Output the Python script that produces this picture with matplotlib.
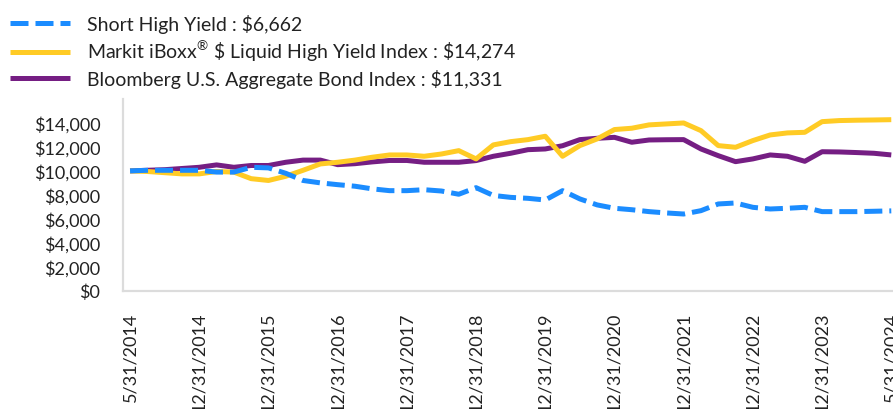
import matplotlib
matplotlib.use("Agg")
import matplotlib.pyplot as plt
from matplotlib.lines import Line2D
import numpy as np

plt.rcParams['font.family'] = ['Lato', 'DejaVu Sans']
plt.rcParams['mathtext.fontset'] = 'custom'
plt.rcParams['mathtext.rm'] = 'Lato'

# Growth of $10,000 (quarterly points, 5/31/2014 - 5/31/2024)
short_high_yield = [10000, 10050, 10050, 10050, 10050, 9900, 9900, 10300, 10250, 9800,
                    9200, 9000, 8850, 8720, 8500, 8350, 8350, 8430, 8320, 8050,
                    8600, 7950, 7790, 7710, 7570, 8350, 7660, 7160, 6880, 6760,
                    6600, 6490, 6400, 6680, 7240, 7320, 6960, 6820, 6880, 6960,
                    6600, 6600, 6600, 6630, 6662]
markit_hy = [10000, 9950, 9850, 9750, 9750, 9950, 9900, 9350, 9200, 9550,
             10050, 10580, 10720, 10900, 11140, 11330, 11330, 11220, 11410, 11690,
             11000, 12170, 12440, 12610, 12890, 11220, 12110, 12670, 13450, 13560,
             13840, 13920, 14000, 13360, 12110, 11970, 12530, 13000, 13170, 13220,
             14110, 14200, 14230, 14250, 14274]
bloomberg_agg = [10000, 10050, 10100, 10200, 10300, 10500, 10300, 10450, 10450, 10720,
                 10900, 10900, 10520, 10600, 10750, 10870, 10870, 10720, 10720, 10720,
                 10860, 11220, 11470, 11770, 11830, 12100, 12610, 12720, 12800, 12390,
                 12580, 12600, 12610, 11830, 11270, 10770, 11000, 11330, 11220, 10800,
                 11600, 11580, 11530, 11470, 11331]
tick_labels = ["5/31/2014", "12/31/2014", "12/31/2015", "12/31/2016", "12/31/2017",
               "12/31/2018", "12/31/2019", "12/31/2020", "12/31/2021", "12/31/2022",
               "12/31/2023", "5/31/2024"]
series_labels = ["Short High Yield : \\$6,662",
                 "Markit iBoxx$^{\u00ae}$ \\$ Liquid High Yield Index : \\$14,274",
                 "Bloomberg U.S. Aggregate Bond Index : \\$11,331"]

C_BLUE = "#1B8CFF"
C_YEL = "#FFCB25"
C_PUR = "#751E83"

W, H = 893, 410
fig = plt.figure(figsize=(W / 100, H / 100), dpi=100)
ax = fig.add_axes([123.3 / W, (H - 291.7) / H, (W - 123.3) / W, (291.7 - 100) / H])

x = np.arange(len(short_high_yield))
lw = 3.6
ax.plot(x, bloomberg_agg, color=C_PUR, lw=lw, solid_capstyle='butt', zorder=2)
ax.plot(x, markit_hy, color=C_YEL, lw=lw, solid_capstyle='butt', zorder=3)
ax.plot(x, short_high_yield, color=C_BLUE, lw=lw, dashes=(3.6, 1.4),
        dash_capstyle='butt', zorder=4)

ax.set_xlim(-0.39, 44.1)
ax.set_ylim(0, 16000)
ax.set_yticks(np.arange(0, 14001, 2000))
ax.yaxis.set_major_formatter(matplotlib.ticker.FuncFormatter(lambda v, p: f"${v:,.0f}"))
ax.set_xticks(np.arange(0, len(x), 4))
ax.set_xticklabels(tick_labels, rotation=90, va='top', ha='center')

for s in ['top', 'right']:
    ax.spines[s].set_visible(False)
for s in ['left', 'bottom']:
    ax.spines[s].set_color('#dcdcdc')
    ax.spines[s].set_linewidth(1.6)
ax.tick_params(axis='y', length=0, pad=16.5, labelsize=13, labelcolor='#222222')
ax.tick_params(axis='x', length=0, pad=15, labelsize=13, labelcolor='#222222')

handles = [Line2D([], [], color=C_BLUE, lw=lw, dashes=(3.6, 1.4), dash_capstyle='butt'),
           Line2D([], [], color=C_YEL, lw=lw, solid_capstyle='butt'),
           Line2D([], [], color=C_PUR, lw=lw, solid_capstyle='butt')]
fs = 14.0
fig.legend(handles, series_labels, loc='upper left', bbox_to_anchor=(10 / W, 1 - 15 / H),
           frameon=False, fontsize=fs, handlelength=43.2 / fs, handletextpad=12.5 / fs,
           labelspacing=0.27, borderpad=0, borderaxespad=0, labelcolor='#222222')

fig.savefig("out.png", dpi=100)
